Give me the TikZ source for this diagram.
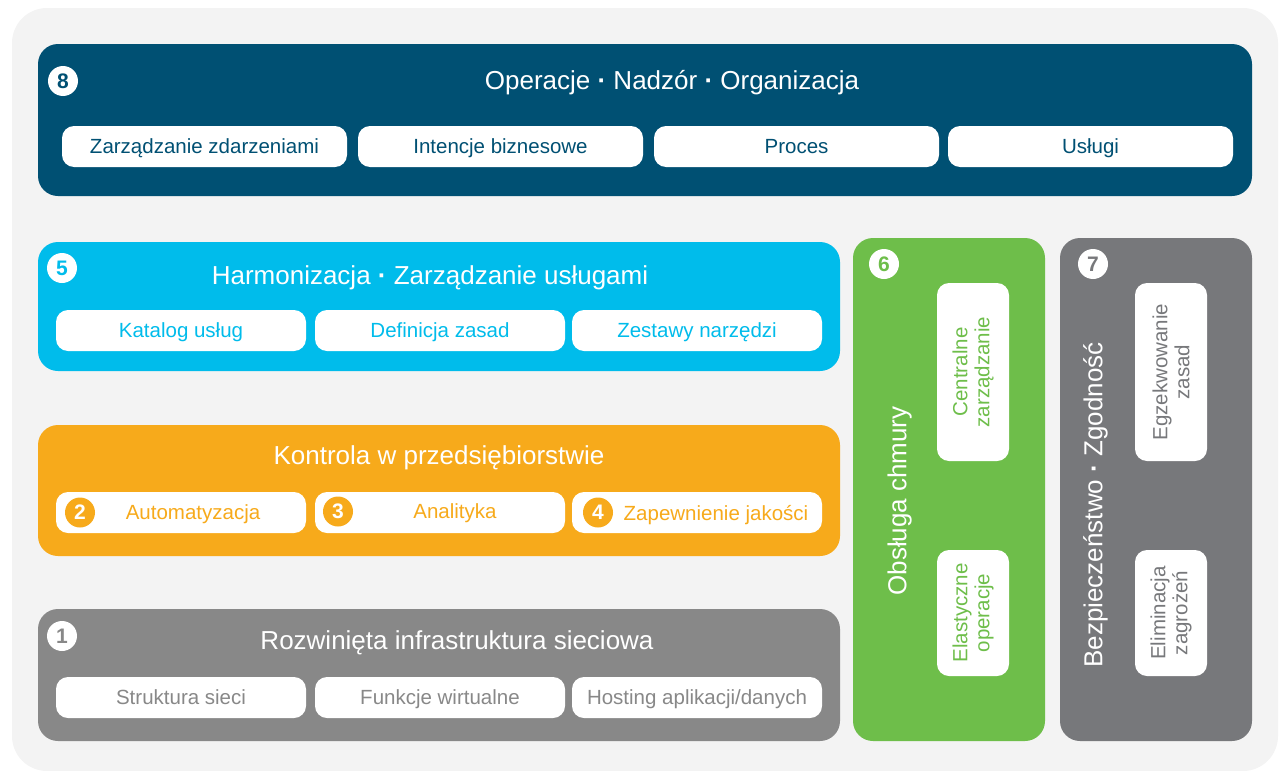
\documentclass[tikz,border=0pt]{standalone}
\usepackage{fontspec}
\setmainfont{Liberation Sans}
\definecolor{bgc}{RGB}{243,243,243}
\definecolor{navy}{RGB}{0,80,115}
\definecolor{cyanb}{RGB}{0,188,235}
\definecolor{orangeb}{RGB}{247,170,27}
\definecolor{grayb}{RGB}{136,136,136}
\definecolor{greenb}{RGB}{110,190,74}
\definecolor{grayc}{RGB}{119,120,123}
\newcommand{\mdot}{\textbf{·}}
\tikzset{
  mainbox/.style={rectangle, rounded corners=20pt, inner sep=0pt},
  subbox/.style={rectangle, rounded corners=12pt, fill=white, inner sep=0pt},
  title/.style={text=white, font=\fontsize{26}{30}\selectfont, inner sep=0pt, text height=18.6pt, text depth=0pt},
  vtitle/.style={text=white, font=\fontsize{26}{30}\selectfont, inner sep=0pt, rotate=90, text height=18.6pt, text depth=0pt},
  subtxt/.style={font=\fontsize{20.5}{24}\selectfont, inner sep=0pt, text height=14.7pt, text depth=0pt},
  vsubtxt/.style={font=\fontsize{20.5}{22}\selectfont, inner sep=0pt, rotate=90, align=center},
  badge/.style={circle, fill=white, minimum size=30pt, inner sep=0pt, font=\fontsize{21}{21}\selectfont\bfseries},
  obadge/.style={circle, fill=orangeb, text=white, minimum size=30pt, inner sep=0pt, font=\fontsize{21}{21}\selectfont\bfseries},
}
\begin{document}
\begin{tikzpicture}[x=1pt,y=-1pt]
\useasboundingbox (0,0) rectangle (1280,771);
\fill[bgc, rounded corners=35pt] (12,8) rectangle (1278,771);

% 8 top
\node[mainbox, fill=navy, minimum width=1214pt, minimum height=152pt] (top) at (645,120) {};
\node[badge, text=navy] (b8) at (63,81) {8};
\node[title] (t8) at (672,80) {Operacje \mdot{} Nadzór \mdot{} Organizacja};
\node[subbox, minimum width=285pt, minimum height=41pt] (s81) at (204.5,146.5) {};
\node[subbox, minimum width=285pt, minimum height=41pt] (s82) at (500.5,146.5) {};
\node[subbox, minimum width=285pt, minimum height=41pt] (s83) at (796.5,146.5) {};
\node[subbox, minimum width=285pt, minimum height=41pt] (s84) at (1090.5,146.5) {};
\node[subtxt, text=navy] at (s81) {Zarządzanie zdarzeniami};
\node[subtxt, text=navy] at (s82) {Intencje biznesowe};
\node[subtxt, text=navy] at (s83) {Proces};
\node[subtxt, text=navy] at (s84) {Usługi};

% 5 cyan
\node[mainbox, fill=cyanb, minimum width=802pt, minimum height=129pt] (cy) at (439,306.5) {};
\node[badge, text=cyanb] (b5) at (62,268) {5};
\node[title] (t5) at (430,275) {Harmonizacja \mdot{} Zarządzanie usługami};
\node[subbox, minimum width=250pt, minimum height=41pt] (s51) at (181,330.5) {};
\node[subbox, minimum width=250pt, minimum height=41pt] (s52) at (440,330.5) {};
\node[subbox, minimum width=250pt, minimum height=41pt] (s53) at (697,330.5) {};
\node[subtxt, text=cyanb] at (s51) {Katalog usług};
\node[subtxt, text=cyanb] at (s52) {Definicja zasad};
\node[subtxt, text=cyanb] at (s53) {Zestawy narzędzi};

% orange
\node[mainbox, fill=orangeb, minimum width=802pt, minimum height=131pt] (or) at (439,490.5) {};
\node[title] (tor) at (439,455) {Kontrola w przedsiębiorstwie};
\node[subbox, minimum width=250pt, minimum height=41pt] (s21) at (181,512.5) {};
\node[subbox, minimum width=250pt, minimum height=41pt] (s31) at (440,512.5) {};
\node[subbox, minimum width=250pt, minimum height=41pt] (s41) at (697,512.5) {};
\node[obadge] (b2) at (80,512.5) {2};
\node[obadge] (b3) at (338,511.5) {3};
\node[obadge] (b4) at (598,512.5) {4};
\node[subtxt, text=orangeb] at (193,512.5) {Automatyzacja};
\node[subtxt, text=orangeb] at (455,511) {Analityka};
\node[subtxt, text=orangeb] at (716,513.5) {Zapewnienie jakości};

% 1 gray
\node[mainbox, fill=grayb, minimum width=802pt, minimum height=132pt] (gr) at (439,675) {};
\node[badge, text=grayb] (b1) at (62,636) {1};
\node[title] (t1) at (457,640) {Rozwinięta infrastruktura sieciowa};
\node[subbox, minimum width=250pt, minimum height=41pt] (s11) at (181,697.5) {};
\node[subbox, minimum width=250pt, minimum height=41pt] (s12) at (440,697.5) {};
\node[subbox, minimum width=250pt, minimum height=41pt] (s13) at (697,697.5) {};
\node[subtxt, text=grayb] at (s11) {Struktura sieci};
\node[subtxt, text=grayb] at (s12) {Funkcje wirtualne};
\node[subtxt, text=grayb] at (s13) {Hosting aplikacji/danych};

% 6 green
\node[mainbox, fill=greenb, minimum width=192pt, minimum height=503pt] (gn) at (949,489.5) {};
\node[badge, text=greenb] (b6) at (884,264) {6};
\node[vtitle] (t6) at (897,501) {Obsługa chmury};
\node[subbox, minimum width=72pt, minimum height=178pt] (s61) at (973,372) {};
\node[subbox, minimum width=72pt, minimum height=126pt] (s62) at (973,613) {};
\node[vsubtxt, text=greenb] at (s61) {Centralne\\zarządzanie};
\node[vsubtxt, text=greenb] at (s62) {Elastyczne\\operacje};

% 7 gray
\node[mainbox, fill=grayc, minimum width=192pt, minimum height=503pt] (gc) at (1156,489.5) {};
\node[badge, text=grayc] (b7) at (1093,264) {7};
\node[vtitle] (t7) at (1093,505) {Bezpieczeństwo \mdot{} Zgodność};
\node[subbox, minimum width=72pt, minimum height=178pt] (s71) at (1171,372) {};
\node[subbox, minimum width=72pt, minimum height=126pt] (s72) at (1171,613) {};
\node[vsubtxt, text=grayc] at (s71) {Egzekwowanie\\zasad};
\node[vsubtxt, text=grayc] at (s72) {Eliminacja\\zagrożeń};
\end{tikzpicture}
\end{document}
